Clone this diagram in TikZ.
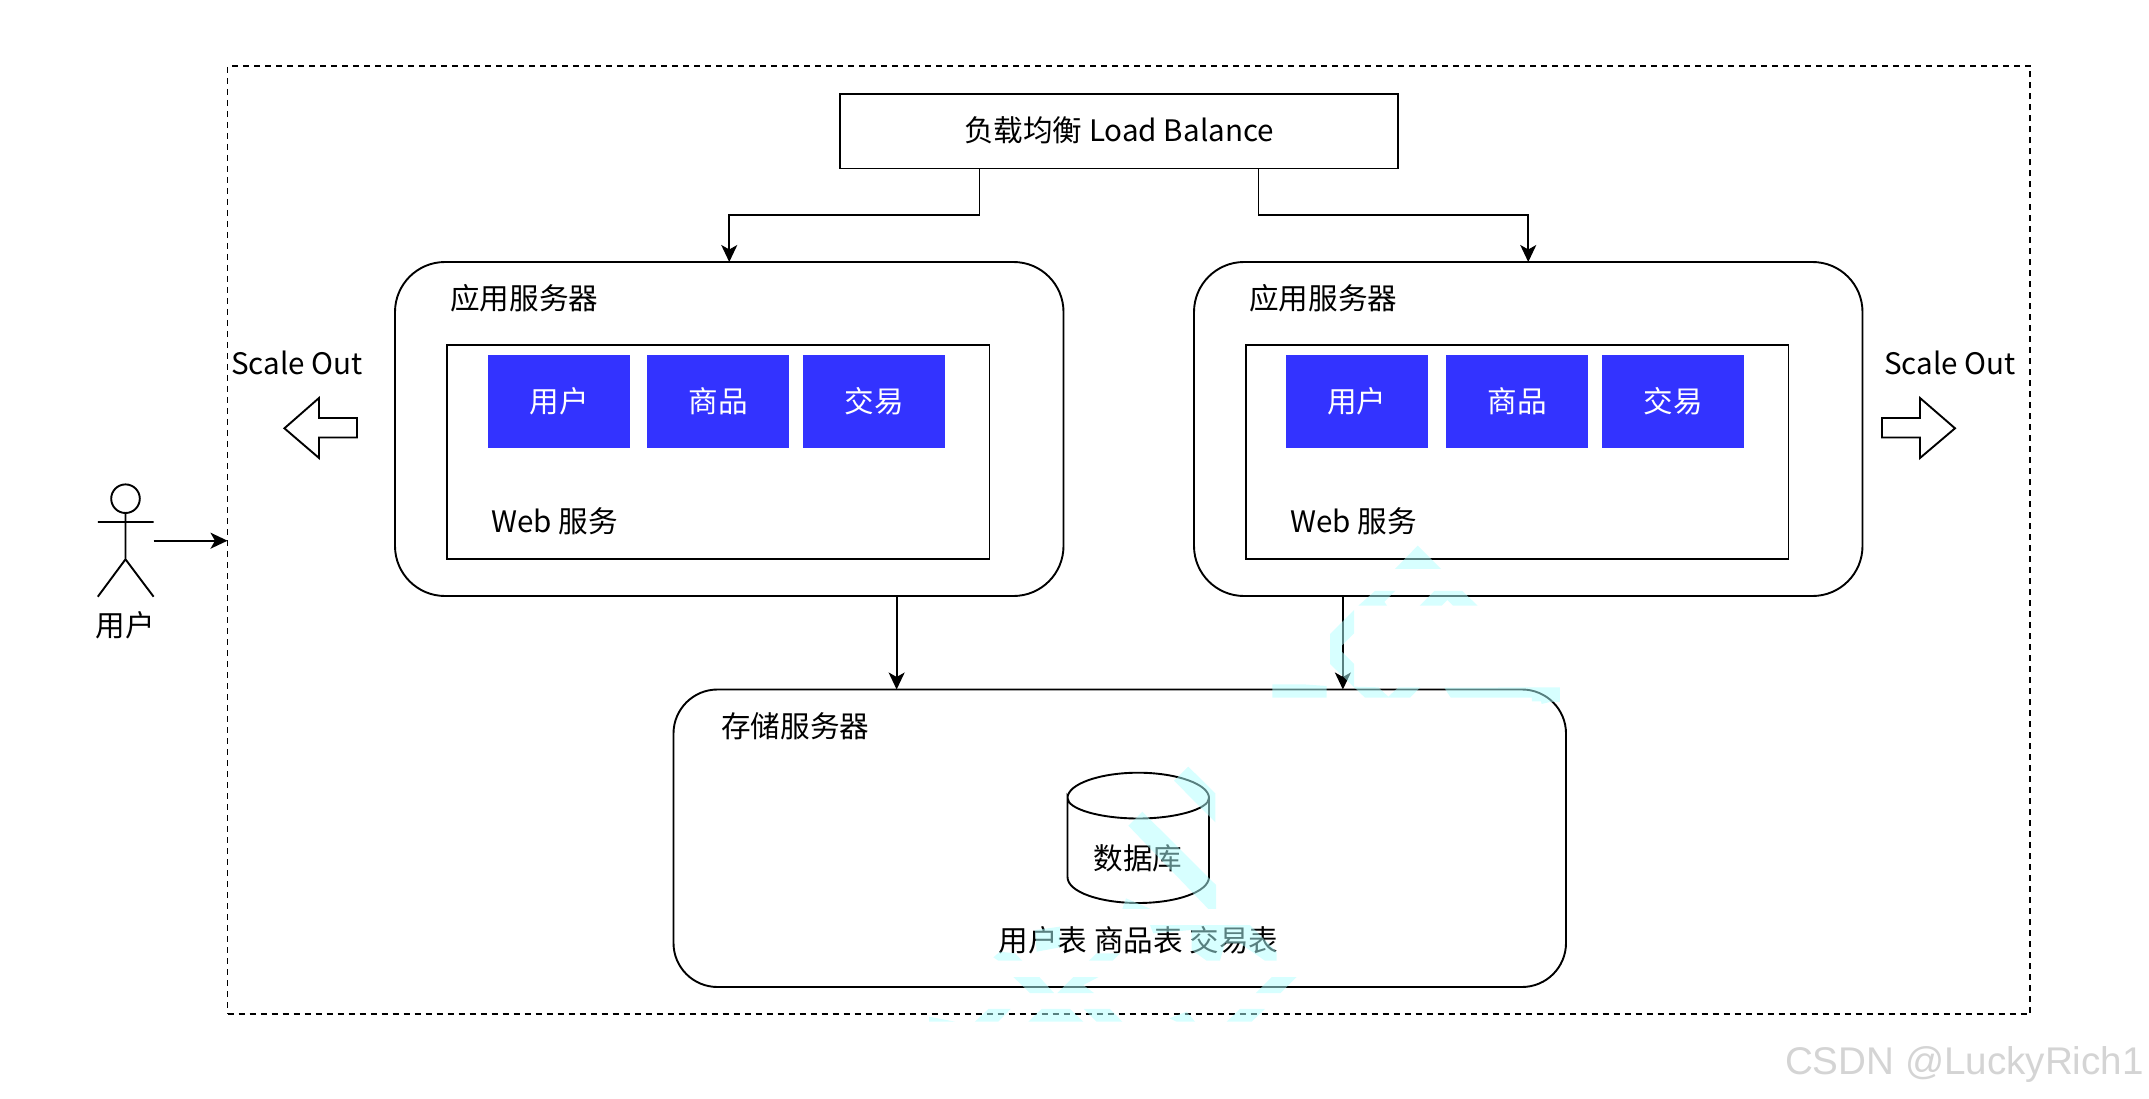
\documentclass[tikz,border=0pt]{standalone}
\usepackage{fontspec}
\setmainfont{Noto Sans CJK SC}
\newfontfamily\wmfont{Liberation Sans}
\usetikzlibrary{arrows.meta,calc}
\definecolor{bluebox}{HTML}{3333FF}
\definecolor{wmcyan}{RGB}{176,255,255}
\tikzset{
  x=1pt,y=-1pt,
  every node/.style={font=\fontsize{29.6}{32}\selectfont},
  linew/.style={line width=1.9pt},
  plain/.style={draw,linew,rectangle,outer sep=0pt,minimum width=0pt,minimum height=0pt,inner sep=0pt,anchor=north west},
  server/.style={plain,rounded corners=50pt},
  store/.style={plain,rounded corners=44pt},
  inner/.style={plain},
  module/.style={rectangle,fill=bluebox,text=white,inner sep=0pt,outer sep=0pt},
  conn/.style={linew,-{Stealth[length=17pt,width=16pt,inset=4.5pt]}},
  blockarrow/.style={draw,linew,fill=white,line join=miter},
  label/.style={inner sep=0pt,anchor=west},
  wm/.style={fill=wmcyan,fill opacity=.5,draw=none},
}
\begin{document}
\begin{tikzpicture}
\useasboundingbox (0,0) rectangle (2149,1099);
\fill[white] (0,0) rectangle (2149,1099);
% outer dashed frame
\node[plain,dash pattern=on 6pt off 5pt,minimum width=1802.5pt,minimum height=948pt] (frame) at (227.5,66) {};
% load balancer
\node[plain,minimum width=558pt,minimum height=74.5pt] (lb) at (840,94) {};
\node at (lb.center) [yshift=1pt] (lbt) {负载均衡 Load Balance};
% app servers
\node[server,minimum width=668.5pt,minimum height=334pt] (s1) at (395,262) {};
\node[server,minimum width=668.5pt,minimum height=334pt] (s2) at (1194,262) {};
\node[label] (s1t) at (450,298) {应用服务器};
\node[label] (s2t) at (1249,298) {应用服务器};
\node[inner,minimum width=542.5pt,minimum height=214pt] (w1) at (447,345) {};
\node[inner,minimum width=542.5pt,minimum height=214pt] (w2) at (1246,345) {};
\foreach \n/\x/\w/\t in {a/488/142/用户,b/647/142/商品,c/803/142/交易,d/1285.5/142.5/用户,e/1446/142/商品,f/1602/142/交易}{
  \node[module,minimum width=\w pt,minimum height=93pt,anchor=north west] (m\n) at (\x,355) {\t};
}
\node[label] (w1t) at (491,521) {Web 服务};
\node[label] (w2t) at (1290,521) {Web 服务};
% storage server
\node[store,minimum width=892.5pt,minimum height=297.5pt] (st) at (673.5,689.5) {};
\node[label] (stt) at (721,726) {存储服务器};
% database
\coordinate (dbtl) at (1067.5,798);
\coordinate (dbtr) at (1209,798);
\coordinate (dbbl) at (1067.5,877);
\coordinate (dbbr) at (1209,877);
\draw[linew] (dbtl) .. controls (1067.5,784) and (1100,772.7) .. (1138.2,772.7)
   .. controls (1176,772.7) and (1209,784) .. (dbtr)
   .. controls (1209,809) and (1176,818.5) .. (1138.2,818.5)
   .. controls (1100,818.5) and (1067.5,809) .. (dbtl) -- (dbbl)
   .. controls (1067.5,892) and (1100,903) .. (1138.2,903)
   .. controls (1176,903) and (1209,892) .. (dbbr) -- (dbtr);
\node (dbt) at (1138,858) {数据库};
\node (tbl) at (1138.5,940) {用户表 商品表 交易表};
% connectors
\coordinate (lbL) at ($(lb.south west)!.25!(lb.south east)$);
\coordinate (lbR) at ($(lb.south west)!.75!(lb.south east)$);
\coordinate (stL) at ($(st.north west)!.25!(st.north east)$);
\coordinate (stR) at ($(st.north west)!.75!(st.north east)$);
\draw[conn] (lbL) -- (lbL |- 0,215) -| (s1.north);
\draw[conn] (lbR) -- (lbR |- 0,215) -| (s2.north);
\draw[conn] (stL |- s1.south) -- (stL);
\draw[conn] (stR |- s2.south) -- (stR);
% actor
\draw[linew] (125.5,498.7) circle[radius=14.3pt];
\coordinate (acthand) at (153.6,540.7);
\coordinate (actin) at (frame.west |- acthand);
\draw[linew] (125.5,513) -- (125.5,559.3) (97.8,522) -- (153.6,522)
   (97.8,596.7) -- (125.5,559.3) -- (153.6,596.7);
\draw[conn] (acthand) -- (actin);
\node (actt) at (125,625) {用户};
% scale out
\node[label] (so1) at (231,363) {Scale Out};
\node[label] (so2) at (1884,363) {Scale Out};
\draw[blockarrow] (284.4,428.3) -- (319,398) -- (319,418) -- (357,418) -- (357,437.5) -- (319,437.5) -- (319,458) -- cycle;
\draw[blockarrow] (1955,428.3) -- (1920,398) -- (1920,418) -- (1882,418) -- (1882,437.5) -- (1920,437.5) -- (1920,458) -- cycle;
% faint watermark fragments
\begin{scope}[shift={(1260,530)},x=0.3333pt,y=-0.3333pt]
\fill[wm] (473,47)--(543,117)--(405,117)--cycle;
\fill[wm] (295,227)--(345,183)--(405,183)--(373,215)--(381,227)--cycle;
\fill[wm] (479,227)--(523,183)--(607,183)--(653,227)--(579,227)--(562,210)--(545,227)--cycle;
\fill[wm] (282,240)--(282,310)--(245,347)--(245,365)--(282,402)--(282,470)--(355,472)--(385,500)--(415,472)--(481,472)--(450,503)--(315,503)--(210,402)--(210,312)--cycle;
\fill[wm] (37,463)--(130,463)--(200,468)--(200,503)--(37,503)--cycle;
\fill[wm] (553,473)--(900,472)--(900,516)--(870,516)--(845,522)--(843,514)--(816,514)--(816,503)--(572,503)--cycle;
\end{scope}
\begin{scope}[shift={(1110,760)},x=0.3333pt,y=-0.3333pt]
\fill[wm] (235,20)--(316,100)--(316,187)--(192,62)--cycle;
\fill[wm] (97,155)--(318,375)--(318,447)--(295,447)--(55,197)--cycle;
\fill[wm] (48,415)--(122,447)--(37,447)--cycle;
\end{scope}
\begin{scope}[shift={(920,910)},x=0.3333pt,y=-0.3333pt]
\fill[wm] (220,142)--(240,125)--(285,130)--(307,152)--(235,152)--cycle;
\fill[wm] (345,60)--(420,50)--(420,112)--(350,125)--cycle;
\fill[wm] (507,152)--(530,130)--(600,130)--(578,152)--cycle;
\fill[wm] (690,45)--(990,45)--(1070,125)--(1070,152)--(1035,152)--(960,100)--(915,100)--(900,152)--(860,152)--(815,120)--(815,60)--(700,70)--cycle;
\fill[wm] (280,201)--(358,201)--(402,249)--(330,249)--cycle;
\fill[wm] (412,249)--(460,201)--(536,201)--(490,225)--(522,249)--cycle;
\fill[wm] (1008,249)--(1056,201)--(1130,201)--(1082,249)--cycle;
\fill[wm] (27,320)--(105,335)--(27,335)--cycle;
\fill[wm] (165,335)--(205,297)--(272,297)--(235,335)--cycle;
\fill[wm] (325,335)--(365,297)--(450,297)--(490,335)--cycle;
\fill[wm] (492,297)--(570,297)--(607,335)--(530,335)--cycle;
\fill[wm] (748,325)--(800,305)--(825,335)--(770,335)--cycle;
\fill[wm] (920,335)--(960,297)--(1035,297)--(995,335)--cycle;
\end{scope}
\node[anchor=east,inner sep=0pt,text=black!17,font=\wmfont\fontsize{38.6}{40}\selectfont] (wmt) at (2144,1065) {CSDN @LuckyRich1};
\end{tikzpicture}
\end{document}
